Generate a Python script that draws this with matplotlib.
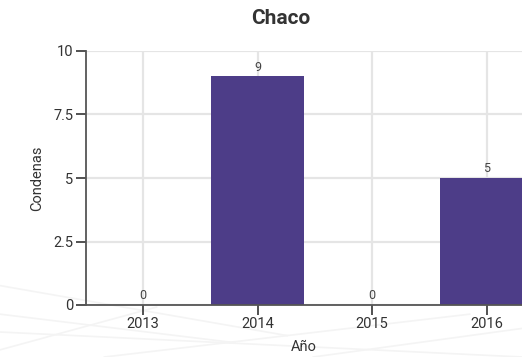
import matplotlib
matplotlib.use("Agg")
import matplotlib.pyplot as plt
from matplotlib.lines import Line2D

years = [2013, 2014, 2015, 2016]
condenas = [0, 9, 0, 5]
yticks = [0, 2.5, 5, 7.5, 10]
ytick_labels = ["0", "2.5", "5", "7.5", "10"]
title = "Chaco"

plt.rcParams['font.family'] = ['Roboto', 'DejaVu Sans']

fig = plt.figure(figsize=(5.22, 3.57), dpi=100)
fig.patch.set_facecolor('white')

# faint decorative background lines
bg = [((0.0, 0.12), (0.45, 0.04)), ((0.0, 0.20), (0.55, 0.06)), ((0.0, 0.07), (1.0, 0.0)),
      ((0.2, 0.0), (0.9, 0.12)), ((0.6, 0.0), (1.0, 0.08)), ((0.0, 0.02), (0.3, 0.14))]
for (x0, y0), (x1, y1) in bg:
    fig.add_artist(Line2D([x0, x1], [y0, y1], color='#f4f4f4', lw=1.2, zorder=0))

ax = fig.add_axes([86/522, 52/357, 1 - 86/522, 254/357])
ax.set_facecolor('none')
ax.bar(years, condenas, width=0.81, color='#4d3d88', zorder=3)
for x, v in zip(years, condenas):
    ax.text(x, v + 0.1, str(v), ha='center', va='bottom', fontsize=9, color='#444444', zorder=4)

ax.set_xlim(2012.5, 2016.31)
ax.set_ylim(0, 10)
ax.set_xticks(years)
ax.set_xticklabels([str(y) for y in years])
ax.set_yticks(yticks)
ax.set_yticklabels(ytick_labels)
ax.grid(True, color='#e5e5e5', lw=1.6, zorder=0)
ax.set_axisbelow(True)
for s in ['top', 'right']:
    ax.spines[s].set_visible(False)
for s in ['left', 'bottom']:
    ax.spines[s].set_color('#555555')
    ax.spines[s].set_linewidth(1.3)
    ax.spines[s].set_zorder(5)
ax.tick_params(axis='both', length=7, width=1.2, color='#333333', labelcolor='#333333', labelsize=10.5, pad=2)
ax.set_xlabel("Año", fontsize=10.5, color='#333333', labelpad=6)
ax.set_ylabel("Condenas", fontsize=10.5, color='#333333', labelpad=7)
fig.text(281/522, 1 - 18/357, title, ha='center', va='center', fontsize=15, fontweight='bold', color='#333333')

fig.savefig("out.png", dpi=100)
